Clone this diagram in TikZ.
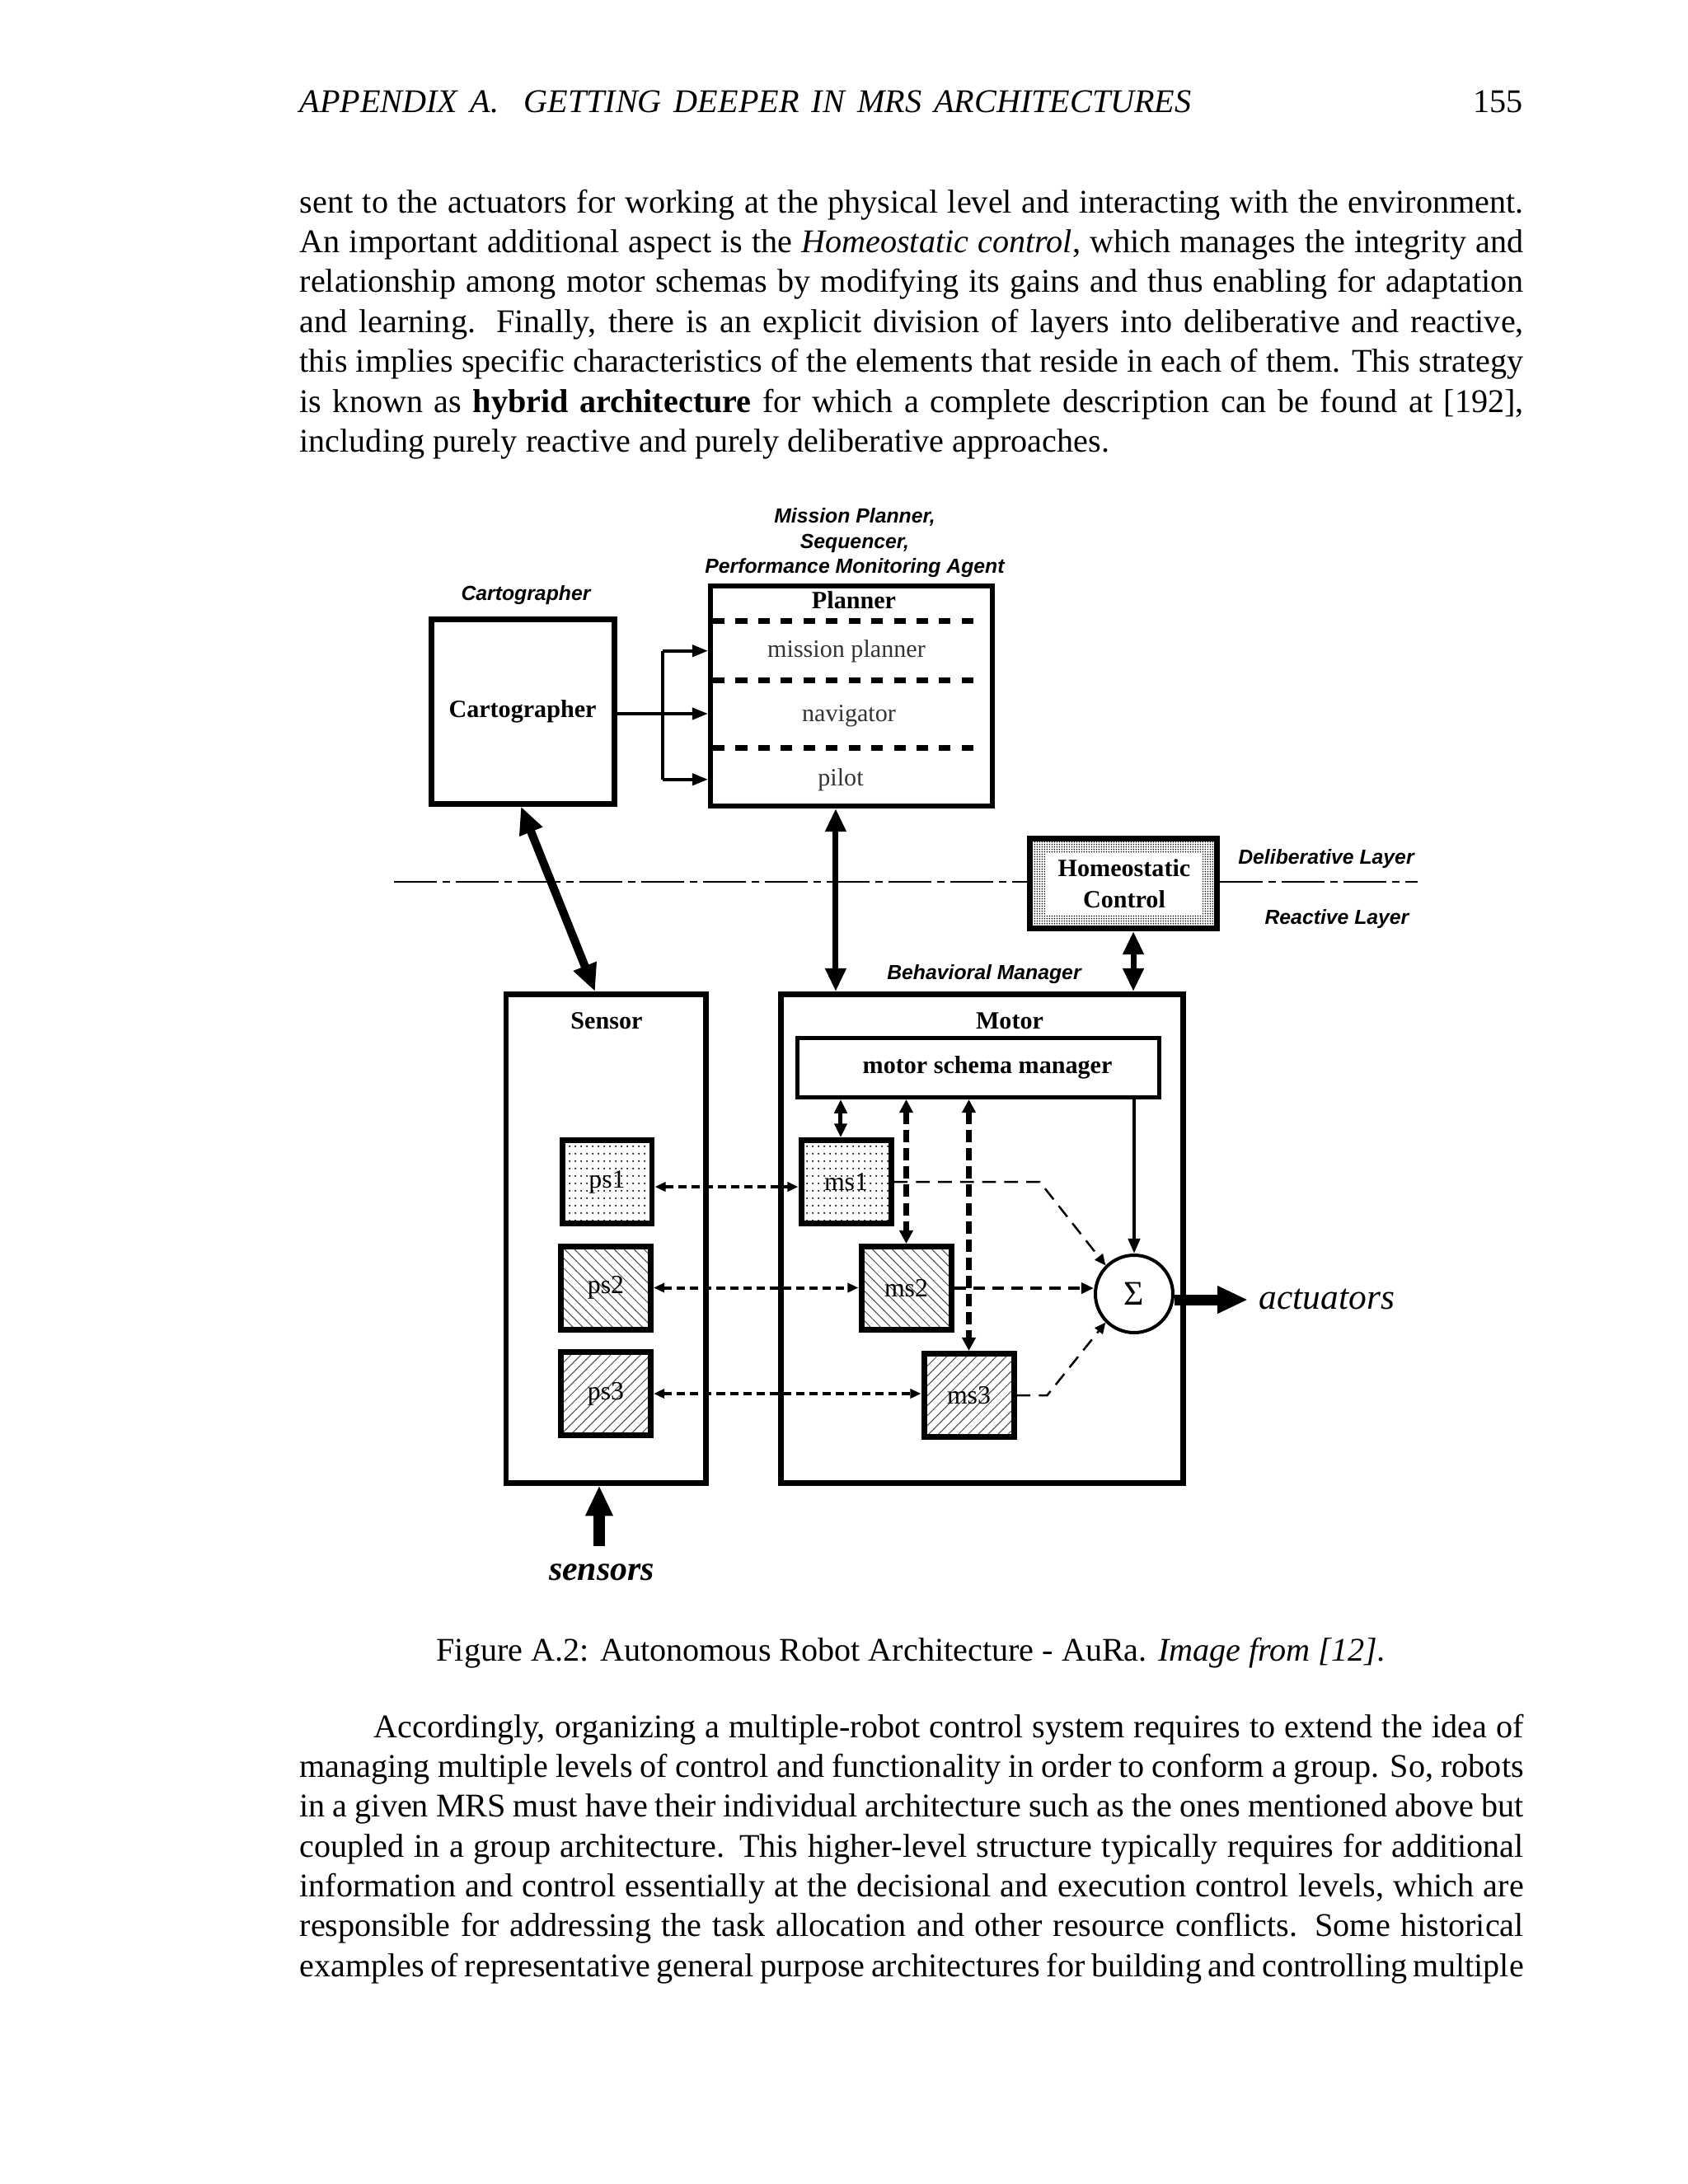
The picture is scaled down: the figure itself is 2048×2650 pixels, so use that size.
\documentclass[tikz,border=0pt]{standalone}
\usepackage{fontspec}
\setmainfont{Liberation Serif}
\newfontfamily\lblsans{Liberation Sans}
\usetikzlibrary{arrows.meta,patterns}

\pgfdeclarepatternformonly{smalldots}{\pgfqpoint{0pt}{0pt}}{\pgfqpoint{2.1pt}{2.7pt}}{\pgfqpoint{2.1pt}{2.7pt}}{\pgfpathcircle{\pgfqpoint{1.05pt}{1.35pt}}{0.36pt}\pgfusepath{fill}}
\pgfdeclarepatternformonly{stipple}{\pgfqpoint{0pt}{0pt}}{\pgfqpoint{1pt}{1pt}}{\pgfqpoint{1pt}{1pt}}{\pgfpathcircle{\pgfqpoint{0.5pt}{0.5pt}}{0.3pt}\pgfusepath{fill}}
\pgfdeclarepatternformonly{nwhatch}{\pgfqpoint{-1pt}{-1pt}}{\pgfqpoint{4.6pt}{4.6pt}}{\pgfqpoint{3.6pt}{3.6pt}}{\pgfsetlinewidth{0.3pt}\pgfpathmoveto{\pgfqpoint{0pt}{3.6pt}}\pgfpathlineto{\pgfqpoint{3.7pt}{-0.1pt}}\pgfusepath{stroke}}
\pgfdeclarepatternformonly{nehatch}{\pgfqpoint{-1pt}{-1pt}}{\pgfqpoint{4.6pt}{4.6pt}}{\pgfqpoint{3.6pt}{3.6pt}}{\pgfsetlinewidth{0.3pt}\pgfpathmoveto{\pgfqpoint{0pt}{0pt}}\pgfpathlineto{\pgfqpoint{3.7pt}{3.7pt}}\pgfusepath{stroke}}

\tikzset{
  bigbox/.style={draw, line width=2.09pt, inner sep=0pt},
  smallbox/.style={draw, line width=2.09pt, minimum width=32.57pt, minimum height=30.18pt, inner sep=0pt, font=\fontsize{9.5}{10}\selectfont},
  serifhead/.style={inner sep=0pt, anchor=base, font=\fontsize{9}{10}\selectfont\bfseries},
  planitem/.style={inner sep=0pt, anchor=base, font=\fontsize{9}{10}\selectfont, text=black!80},
  sanslbl/.style={inner sep=0pt, anchor=base, font=\lblsans\bfseries\itshape\fontsize{7.4}{9}\selectfont},
  bodyline/.style={inner sep=0pt, anchor=base west, font=\fontsize{12}{14.5}\selectfont},
  plandash/.style={line width=2.09pt, dash pattern=on 4.2pt off 4pt},
  layerline/.style={line width=0.75pt, dash pattern=on 15.5pt off 2.1pt on 2.7pt off 2.1pt},
  fork/.style={line width=1.2pt},
  forktip/.style={-{Triangle[length=5.7pt,width=4.2pt]}},
  bigdouble/.style={line width=3pt, {Triangle[length=9.9pt,width=8.4pt]}-{Triangle[length=9.9pt,width=8.4pt]}},
  meddouble/.style={line width=2.1pt, {Triangle[length=8.4pt,width=7.2pt]}-{Triangle[length=8.4pt,width=7.2pt]}},
  smalldouble/.style={line width=1.5pt, {Triangle[length=5pt,width=4.5pt]}-{Triangle[length=5pt,width=4.5pt]}},
  dashdouble/.style={line width=1.8pt, dash pattern=on 4.5pt off 2.1pt, {Triangle[length=4.8pt,width=4.8pt]}-{Triangle[length=4.8pt,width=4.8pt]}},
  dotdouble/.style={line width=1.2pt, dash pattern=on 3pt off 1.8pt, {Triangle[length=3.9pt,width=3.3pt]}-{Triangle[length=3.9pt,width=3.3pt]}},
  sumsolid/.style={line width=1.2pt, -{Triangle[length=5.4pt,width=4.2pt]}},
  sumdash/.style={line width=1.2pt, dash pattern=on 4.2pt off 2.7pt, -{Triangle[length=4.5pt,width=3.9pt]}},
  sumthin/.style={line width=0.75pt, dash pattern=on 5pt off 3pt, -{Triangle[length=4pt,width=3.6pt]}},
  fatarrow/.style={line width=3.9pt, -{Triangle[length=11pt,width=9.3pt]}}
}

\begin{document}
\begin{tikzpicture}[x=0.298828pt, y=-0.298828pt]
\useasboundingbox (0,0) rectangle (2048,2650);
\fill[white] (0,0) rectangle (2048,2650);

% ---------- running head ----------
\node[bodyline] (head) at (363,136) {\makebox[323.3pt][s]{\itshape APPENDIX A.\ \ GETTING DEEPER IN MRS ARCHITECTURES}};
\node[inner sep=0pt, anchor=base east, font=\fontsize{12}{14.5}\selectfont] (pageno) at (1848,136) {155};

% ---------- top paragraph ----------
\node[bodyline] (t1) at (363,258) {\makebox[443.76pt][s]{sent to the actuators for working at the physical level and interacting with the environment.}};
\node[bodyline] (t2) at (363,306.4) {\makebox[443.76pt][s]{An important additional aspect is the \textit{Homeostatic control}, which manages the integrity and}};
\node[bodyline] (t3) at (363,354.8) {\makebox[443.76pt][s]{relationship among motor schemas by modifying its gains and thus enabling for adaptation}};
\node[bodyline] (t4) at (363,403.2) {\makebox[443.76pt][s]{and learning.  Finally, there is an explicit division of layers into deliberative and reactive,}};
\node[bodyline] (t5) at (363,451.6) {\makebox[443.76pt][s]{this implies specific characteristics of the elements that reside in each of them. This strategy}};
\node[bodyline] (t6) at (363,500) {\makebox[443.76pt][s]{is known as \textbf{hybrid architecture} for which a complete description can be found at [192],}};
\node[bodyline] (t7) at (363,548.4) {including purely reactive and purely deliberative approaches.};

% ---------- diagram: upper labels ----------
\node[sanslbl] (mpl1) at (1037,634) {Mission Planner,};
\node[sanslbl] (mpl2) at (1037,665) {Sequencer,};
\node[sanslbl] (mpl3) at (1037,695) {Performance Monitoring Agent};
\node[sanslbl] (cartlbl) at (638,728) {Cartographer};

% cartographer
\node[bigbox, minimum width=66.34pt, minimum height=66.94pt, font=\fontsize{9}{10}\selectfont\bfseries] (cart) at (634,863) {Cartographer};

% planner
\node[bigbox, line width=1.79pt, minimum width=102.2pt, minimum height=79.79pt] (planner) at (1033,844.5) {};
\node[serifhead] (plannerlbl) at (1036,738) {Planner};
\draw[plandash] (865,753) -- (1193,753);
\draw[plandash] (865,825) -- (1193,825);
\draw[plandash] (865,907) -- (1193,907);
\node[planitem] (mp) at (1027,797) {mission planner};
\node[planitem] (nav) at (1030,875) {navigator};
\node[planitem] (pil) at (1020,953) {pilot};

% cartographer -> planner fork
\coordinate (jn) at (804,866);
\draw[fork] (cart.east |- jn) -- (jn);
\draw[fork] (jn |- mp) -- (jn |- pil);
\draw[fork, forktip] (jn |- mp) -- (planner.west |- mp);
\draw[fork, forktip] (jn) -- (planner.west |- jn);
\draw[fork, forktip] (jn |- pil) -- (planner.west |- pil);

% homeostatic control
\node[draw, line width=2.09pt, pattern=stipple, minimum width=67.83pt, minimum height=32.57pt, inner sep=0pt] (homeo) at (1363,1072) {};
\node[fill=white, minimum width=56.5pt, minimum height=22.4pt, inner sep=0pt, align=center, font=\fontsize{9}{11.4}\selectfont\bfseries] (homeotxt) at (1364,1072) {Homeostatic\\Control};

% layer separation line
\coordinate (LL) at (478,1070);
\coordinate (LR) at (1720,1070);
\draw[layerline] (LL) -- (LL -| homeo.west);
\draw[layerline] (homeo.east |- LR) -- (LR);
\node[sanslbl] (dellbl) at (1609,1048) {Deliberative Layer};
\node[sanslbl] (reallbl) at (1622,1121) {Reactive Layer};
\node[sanslbl] (bmlbl) at (1194,1188) {Behavioral Manager};

% sensor and motor boxes
\node[bigbox, minimum width=72.32pt, minimum height=177.05pt] (sensor) at (735,1502.75) {};
\node[bigbox, minimum width=145.83pt, minimum height=177.05pt] (motor) at (1191,1502.75) {};
\node[serifhead] (sensorlbl) at (736,1248) {Sensor};
\node[serifhead] (motorlbl) at (1225,1248) {Motor};
\node[draw, line width=1.49pt, minimum width=131.19pt, minimum height=21.52pt, inner sep=0pt, font=\fontsize{9}{10}\selectfont\bfseries] (msm) at (1187,1295.5) {\hspace{6.6pt}motor schema manager};

% long vertical connectors
\draw[bigdouble] ([xshift=-0.6pt]cart.south) -- ([xshift=-3.9pt]sensor.north);
\draw[meddouble] ([xshift=-5.7pt]planner.south) -- ([xshift=-5.7pt]planner.south |- motor.north);
\draw[meddouble] ([xshift=3.6pt]homeo.south) -- ([xshift=3.6pt]homeo.south |- motor.north);

% schemas
\node[smallbox, pattern=smalldots] (ps1) at (736.5,1434) {ps1};
\node[smallbox, pattern=nwhatch, pattern color=black!70] (ps2) at (735,1562.5) {ps2};
\node[smallbox, pattern=nehatch, pattern color=black!70] (ps3) at (735,1691) {ps3};
\node[smallbox, pattern=smalldots] (ms1) at (1026.5,1434) {ms1};
\node[smallbox, pattern=nwhatch, pattern color=black!70] (ms2) at (1099.5,1563) {ms2};
\node[smallbox, pattern=nehatch, pattern color=black!70] (ms3) at (1175.5,1693) {ms3};

% summation
\node[circle, draw, line width=1.2pt, minimum size=28.09pt, inner sep=0pt, font=\fontsize{12.5}{14}\selectfont] (sigma) at (1376,1570) {Σ};

% ps <-> ms
\draw[dotdouble] ([yshift=-1.8pt]ps1.east) -- ([yshift=-1.8pt]ms1.west);
\draw[dotdouble] (ps2.east) -- (ps2.east -| ms2.west);
\draw[dotdouble] (ps3.east) -- (ps3.east -| ms3.west);

% manager <-> ms
\draw[smalldouble] ([xshift=-1.95pt]ms1.north) -- ([xshift=-1.95pt]ms1.north |- msm.south);
\draw[dashdouble] (msm.south -| ms2.north) -- (ms2.north);
\draw[dashdouble] (msm.south -| ms3.north) -- (ms3.north);
\draw[sumsolid] (msm.south -| sigma.north) -- (sigma.north);

% ms -> sigma
\draw[sumthin] (ms1.east) -- ++(177,0) -- (sigma.135);
\draw[sumdash] (ms2.east) -- (ms2.east -| sigma.west);
\draw[sumthin] (ms3.east) -- ++(37,0) -- (sigma.225);

% actuators
\node[inner sep=0pt, anchor=base west, font=\fontsize{13}{15}\selectfont\itshape] (act) at (1527,1588) {actuators};
\draw[fatarrow, shorten >=3.9pt] ([yshift=-2.1pt]sigma.east) -- ([yshift=-2.1pt]sigma.east -| act.west);

% sensors
\node[inner sep=0pt, anchor=base, font=\fontsize{12.5}{14}\selectfont\bfseries\itshape] (sens) at (730,1917) {sensors};
\draw[fatarrow, shorten <=6.3pt] ([xshift=-0.9pt]sens.north) -- ([xshift=-0.9pt]sens.north |- sensor.south);

% ---------- caption ----------
\node[inner sep=0pt, anchor=base, font=\fontsize{12}{14.5}\selectfont] (caption) at (1105.5,2015) {Figure A.2: Autonomous Robot Architecture - AuRa. \textit{Image from [12].}};

% ---------- bottom paragraph ----------
\node[bodyline] (b1) at (453,2108) {\makebox[416.87pt][s]{Accordingly, organizing a multiple-robot control system requires to extend the idea of}};
\node[bodyline] (b2) at (363,2156.3) {\makebox[443.76pt][s]{managing multiple levels of control and functionality in order to conform a group. So, robots}};
\node[bodyline] (b3) at (363,2204.7) {\makebox[443.76pt][s]{in a given MRS must have their individual architecture such as the ones mentioned above but}};
\node[bodyline] (b4) at (363,2253) {\makebox[443.76pt][s]{coupled in a group architecture.  This higher-level structure typically requires for additional}};
\node[bodyline] (b5) at (363,2301.3) {\makebox[443.76pt][s]{information and control essentially at the decisional and execution control levels, which are}};
\node[bodyline] (b6) at (363,2349.7) {\makebox[443.76pt][s]{responsible for addressing the task allocation and other resource conflicts.  Some historical}};
\node[bodyline] (b7) at (363,2398) {\makebox[443.76pt][s]{examples of representative general purpose architectures for building and controlling multiple}};
\end{tikzpicture}
\end{document}
